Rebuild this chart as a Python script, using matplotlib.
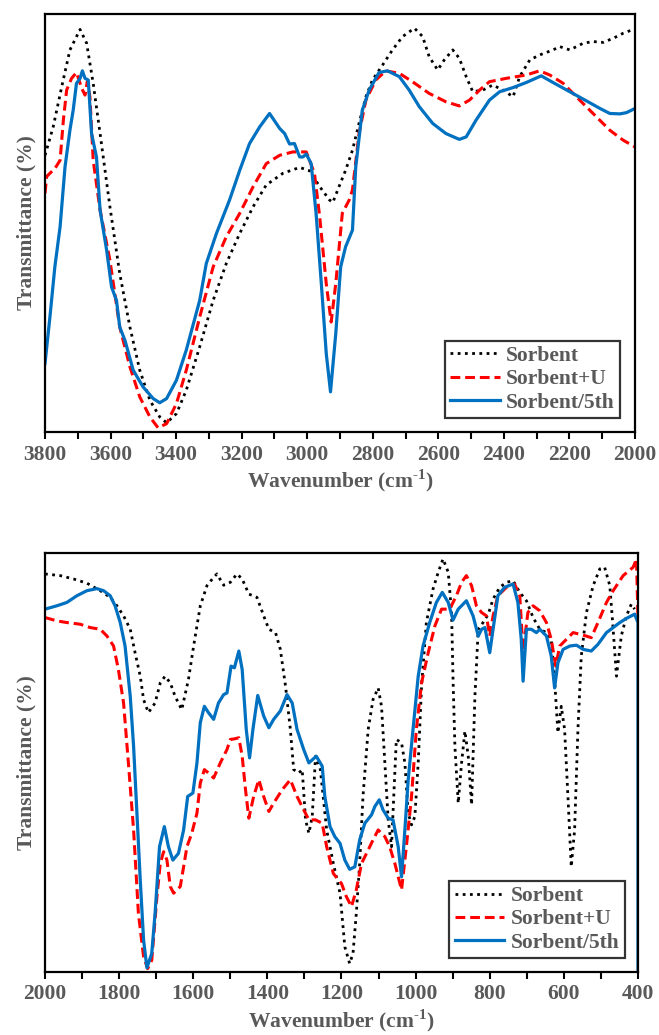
import matplotlib
matplotlib.use("Agg")
import matplotlib.pyplot as plt
from matplotlib.ticker import MultipleLocator

plt.rcParams['font.family'] = ['Liberation Serif', 'DejaVu Serif']
plt.rcParams['font.weight'] = 'bold'
plt.rcParams['mathtext.fontset'] = 'custom'
plt.rcParams['mathtext.rm'] = 'Liberation Serif:bold'
plt.rcParams['mathtext.bf'] = 'Liberation Serif:bold'

labels = ['Sorbent', 'Sorbent+U', 'Sorbent/5th']

# ---- top panel: 3800-2000 cm-1 ----
top_sorbent_w = [3800, 3775, 3749, 3724, 3693, 3673, 3653, 3632, 3602, 3572, 3541, 3511, 3480, 3450,
                 3429, 3399, 3369, 3328, 3287, 3247, 3206, 3165, 3125, 3074, 3023, 2993, 2962, 2932,
                 2922, 2903, 2883, 2862, 2842, 2821, 2801, 2770, 2740, 2709, 2673, 2648, 2628, 2602,
                 2582, 2556, 2536, 2515, 2495, 2464, 2434, 2403, 2372, 2352, 2321, 2291, 2250, 2230,
                 2199, 2158, 2128, 2097, 2066, 2036, 2005]
top_sorbent_t = [66.2, 73.0, 82.6, 91.4, 96.3, 93.0, 83.4, 71.4, 53.9, 37.9, 25.1, 14.8, 7.6, 3.6,
                 2.2, 4.4, 10.0, 20.4, 31.5, 40.3, 47.5, 53.9, 59.1, 61.9, 63.3, 62.5, 58.7, 55.5,
                 54.9, 58.7, 62.6, 67.4, 73.8, 80.2, 84.2, 87.8, 91.4, 94.6, 96.6, 94.6, 89.8, 86.6,
                 89.0, 91.4, 89.4, 85.0, 81.4, 81.8, 83.0, 81.8, 80.2, 85.0, 89.0, 90.2, 91.4, 92.2,
                 91.4, 93.0, 93.4, 93.2, 94.2, 95.4, 96.3]

top_u_w = [3800, 3795, 3785, 3770, 3754, 3744, 3734, 3719, 3704, 3688, 3678, 3671, 3663, 3653,
           3632, 3602, 3572, 3541, 3511, 3480, 3455, 3429, 3399, 3369, 3328, 3287, 3247, 3206,
           3165, 3125, 3084, 3044, 3003, 2978, 2962, 2942, 2927, 2913, 2893, 2872, 2862, 2842,
           2821, 2791, 2760, 2719, 2679, 2628, 2577, 2536, 2505, 2474, 2444, 2393, 2332, 2291,
           2260, 2219, 2179, 2128, 2077, 2036, 2000]
top_u_t = [57.1, 61.1, 61.9, 63.0, 65.0, 74.6, 81.8, 84.6, 86.0, 82.2, 80.6, 83.8, 80.2, 65.0,
           53.1, 41.1, 25.1, 15.6, 8.4, 3.6, 1.0, 2.0, 6.8, 14.8, 27.5, 39.5, 46.7, 52.3,
           58.7, 64.2, 66.2, 67.0, 67.0, 61.9, 51.5, 35.5, 26.3, 35.5, 52.3, 55.5, 57.9, 71.4,
           79.4, 84.2, 86.4, 85.8, 83.8, 81.0, 79.0, 78.0, 79.4, 81.8, 83.8, 84.6, 85.4, 86.4,
           85.4, 83.4, 80.2, 76.2, 72.2, 69.8, 68.2]

top_5th_w = [3800, 3785, 3770, 3754, 3739, 3724, 3714, 3704, 3693, 3686, 3678, 3668, 3658, 3643,
             3632, 3612, 3597, 3582, 3572, 3556, 3531, 3501, 3470, 3450, 3429, 3399, 3369, 3328,
             3308, 3277, 3237, 3206, 3176, 3145, 3115, 3084, 3069, 3054, 3039, 3023, 3013, 3003,
             2988, 2973, 2957, 2942, 2929, 2913, 2898, 2883, 2862, 2852, 2832, 2811, 2781, 2755,
             2719, 2689, 2658, 2617, 2577, 2536, 2515, 2485, 2444, 2413, 2372, 2332, 2286, 2250,
             2199, 2148, 2107, 2077, 2046, 2026, 2000]
top_5th_t = [16.4, 27.5, 39.5, 49.1, 63.4, 72.2, 77.0, 83.4, 84.6, 86.4, 84.6, 84.2, 71.4, 65.8,
             53.1, 43.5, 34.7, 31.5, 25.1, 21.9, 14.8, 10.8, 8.0, 7.0, 8.0, 12.4, 19.6, 31.5,
             40.3, 47.5, 55.5, 62.6, 69.0, 73.0, 76.2, 72.6, 71.4, 68.9, 69.0, 65.8, 65.8, 66.5,
             64.2, 52.3, 35.5, 18.8, 9.6, 23.5, 39.5, 44.3, 48.3, 63.4, 77.0, 81.8, 86.0, 86.4,
             85.0, 81.8, 77.8, 73.8, 71.4, 70.0, 70.6, 74.6, 79.4, 81.4, 82.4, 83.6, 85.2, 83.6,
             81.4, 79.2, 77.4, 76.2, 76.1, 76.4, 77.4]

# ---- bottom panel: 2000-400 cm-1 ----
bot_sorbent_w = [2000, 1959, 1923, 1887, 1851, 1824, 1806, 1788, 1770, 1757, 1743, 1734, 1721, 1703,
                 1689, 1676, 1662, 1649, 1631, 1613, 1599, 1581, 1563, 1545, 1536, 1518, 1500, 1482,
                 1468, 1450, 1428, 1410, 1396, 1378, 1365, 1351, 1338, 1329, 1315, 1306, 1297, 1288,
                 1279, 1270, 1257, 1240, 1222, 1204, 1191, 1178, 1169, 1160, 1151, 1142, 1128, 1115,
                 1101, 1092, 1083, 1074, 1065, 1059, 1052, 1038, 1029, 1020, 1011, 1002, 993, 984,
                 971, 953, 939, 926, 912, 903, 899, 894, 885, 876, 867, 858, 849, 840, 831, 818,
                 804, 791, 773, 755, 737, 719, 701, 683, 665, 647, 634, 625, 616, 607, 598, 589,
                 580, 571, 562, 553, 539, 521, 503, 490, 476, 467, 458, 445, 431, 418, 409]
bot_sorbent_t = [95.0, 94.6, 93.8, 92.8, 91.0, 89.4, 87.4, 85.0, 81.8, 76.2, 70.6, 65.0, 61.9, 64.2,
                 69.0, 70.6, 69.0, 65.8, 62.6, 69.8, 77.8, 87.4, 92.2, 94.2, 95.0, 92.3, 93.0, 95.0,
                 93.8, 90.2, 89.4, 85.0, 81.8, 81.0, 77.0, 68.2, 57.9, 48.3, 47.5, 48.3, 36.3, 33.1,
                 37.1, 51.5, 48.3, 33.9, 25.9, 18.8, 6.0, 2.0, 4.4, 14.0, 25.9, 41.9, 57.9, 65.0,
                 67.8, 63.4, 49.9, 36.3, 29.9, 41.9, 55.5, 54.7, 49.9, 37.9, 35.1, 37.1, 49.9, 68.2,
                 83.4, 91.4, 95.4, 98.6, 95.4, 85.8, 69.8, 53.9, 40.3, 49.9, 57.5, 51.5, 39.9, 65.8, 81.8, 83.4,
                 85.4, 89.0, 91.8, 93.0, 93.4, 90.6, 88.6, 84.6, 81.8, 81.0, 79.4, 69.8, 57.1, 63.4, 57.9, 41.9,
                 25.1, 33.9, 57.9, 75.4, 85.8, 92.2, 96.2, 96.6, 92.2, 81.8, 70.6, 80.2, 85.0, 87.8, 86.6]

bot_u_w = [2000, 1968, 1941, 1905, 1878, 1851, 1833, 1815, 1802, 1788, 1775, 1761, 1748, 1734,
           1723, 1712, 1698, 1689, 1680, 1671, 1662, 1653, 1635, 1626, 1617, 1604, 1590, 1581,
           1570, 1559, 1545, 1527, 1509, 1500, 1491, 1477, 1468, 1459, 1450, 1437, 1423, 1410,
           1396, 1383, 1360, 1338, 1320, 1302, 1288, 1270, 1252, 1240, 1222, 1200, 1187, 1173,
           1160, 1146, 1128, 1115, 1101, 1083, 1070, 1056, 1038, 1025, 1011, 998, 984, 966,
           948, 930, 908, 890, 876, 863, 849, 836, 822, 809, 800, 791, 778, 755, 733, 719,
           710, 697, 683, 665, 647, 634, 622, 611, 593, 575, 548, 526, 508, 485, 467, 440,
           413, 404, 400]
bot_u_t = [84.6, 83.8, 83.4, 83.0, 82.2, 81.8, 80.2, 77.8, 72.2, 64.2, 49.9, 33.9, 14.0, 3.6,
           0.8, 2.8, 18.0, 25.9, 28.7, 26.7, 20.4, 18.8, 20.4, 25.1, 29.9, 33.1, 37.9, 45.1,
           48.3, 47.5, 46.3, 49.9, 53.1, 55.5, 55.6, 55.9, 51.5, 43.5, 36.7, 41.9, 45.9, 41.9,
           38.3, 40.3, 43.5, 45.9, 41.9, 38.7, 36.3, 36.3, 35.5, 29.9, 23.5, 21.1, 18.0, 15.6,
           19.6, 25.9, 29.1, 31.5, 33.9, 32.3, 29.9, 25.9, 19.6, 29.9, 41.9, 57.9, 69.0, 76.2,
           82.6, 86.6, 86.6, 89.8, 93.0, 94.6, 92.2, 87.4, 85.8, 85.0, 80.2, 85.0, 89.8, 91.8, 92.6, 89.8,
           76.6, 85.8, 87.4, 86.2, 83.4, 79.4, 73.0, 77.8, 79.4, 81.0, 80.4, 79.8, 83.4, 88.2, 91.0, 94.6,
           96.6, 98.6, 84.2]

bot_5th_w = [2000, 1968, 1941, 1914, 1887, 1860, 1842, 1824, 1811, 1797, 1784, 1770, 1761, 1752,
             1743, 1734, 1725, 1712, 1703, 1691, 1678, 1667, 1655, 1640, 1626, 1615, 1601, 1590,
             1581, 1570, 1559, 1545, 1532, 1518, 1509, 1498, 1489, 1477, 1468, 1457, 1448, 1439,
             1426, 1410, 1396, 1383, 1365, 1347, 1333, 1320, 1302, 1288, 1268, 1252, 1245, 1231,
             1218, 1204, 1191, 1178, 1164, 1151, 1137, 1119, 1110, 1098, 1088, 1074, 1061, 1047,
             1038, 1029, 1020, 1007, 993, 980, 962, 944, 928, 912, 899, 885, 863, 845, 831, 822,
             813, 800, 791, 778, 760, 737, 724, 715, 710, 701, 688, 674, 665, 647, 634, 625,
             616, 602, 584, 566, 548, 526, 508, 485, 467, 449, 431, 409, 400, 400]
bot_5th_t = [86.6, 87.4, 88.2, 89.8, 91.0, 91.5, 91.0, 89.8, 87.4, 83.4, 77.8, 65.8, 53.9, 37.9,
             21.9, 7.6, 1.0, 4.4, 14.0, 29.9, 34.7, 29.9, 26.7, 28.3, 33.9, 41.9, 42.7, 49.9,
             59.5, 63.4, 61.9, 60.3, 64.2, 66.2, 66.6, 73.0, 72.6, 76.6, 72.2, 57.9, 51.1, 57.9,
             66.0, 61.1, 58.3, 60.3, 62.3, 66.2, 64.2, 57.9, 53.1, 49.9, 51.5, 49.1, 41.9, 34.7,
             32.3, 30.7, 26.7, 24.5, 25.1, 31.5, 35.5, 37.5, 39.5, 41.1, 38.7, 36.7, 36.3, 29.9,
             22.7, 33.9, 45.9, 57.9, 70.6, 77.8, 83.4, 88.2, 90.6, 88.2, 84.0, 86.6, 88.6, 85.0, 80.2, 81.8,
             82.2, 76.2, 81.8, 89.8, 91.8, 92.6, 88.2, 79.4, 69.4, 81.8, 81.8, 81.0, 81.8, 80.2, 75.4, 67.8,
             73.8, 77.0, 77.8, 78.0, 77.0, 76.6, 78.2, 81.0, 82.2, 83.4, 84.4, 85.4, 83.4, 0.0]

text_color = '#595959'
fs = 15.5

fig = plt.figure(figsize=(6.59, 10.35), dpi=100)
ax1 = fig.add_axes([0.0683, 0.5826, 0.8953, 0.4039])
ax2 = fig.add_axes([0.0683, 0.0609, 0.8998, 0.4048])

panels = [
    (ax1, (3800, 2000), [(top_sorbent_w, top_sorbent_t), (top_u_w, top_u_t), (top_5th_w, top_5th_t)],
     (0.975, 0.0335)),
    (ax2, (2000, 400), [(bot_sorbent_w, bot_sorbent_t), (bot_u_w, bot_u_t), (bot_5th_w, bot_5th_t)],
     (0.978, 0.033)),
]

for ax, xlim, series, anchor in panels:
    (sw, st), (uw, ut), (fw, ft) = series
    ax.plot(sw, st, color='black', linestyle=(0, (1, 1.6)), linewidth=2.0, label=labels[0])
    ax.plot(uw, ut, color='#FF0000', linestyle=(0, (3.2, 1.6)), linewidth=2.2, label=labels[1])
    ax.plot(fw, ft, color='#0070C0', linestyle='-', linewidth=2.3, label=labels[2])
    ax.set_xlim(*xlim)
    ax.set_ylim(0, 100)
    ax.xaxis.set_major_locator(MultipleLocator(200))
    ax.xaxis.set_minor_locator(MultipleLocator(100))
    ax.tick_params(axis='x', which='both', direction='out', length=5, width=1.5,
                   labelsize=fs, labelcolor=text_color, pad=4)
    ax.set_yticks([])
    for sp in ax.spines.values():
        sp.set_linewidth(1.6)
        sp.set_color('black')
    for t in ax.get_xticklabels():
        t.set_fontweight('bold')
    ax.set_xlabel(r'Wavenumber (cm$^{\text{-1}}$)', fontsize=fs, fontweight='bold',
                  color=text_color, labelpad=2)
    ax.set_ylabel('Transmittance (%)', fontsize=fs, fontweight='bold', color=text_color,
                  labelpad=6)
    leg = ax.legend(loc='lower right', bbox_to_anchor=anchor, fontsize=fs, frameon=True,
                    fancybox=False, edgecolor='black', borderpad=0.25, labelspacing=0.15,
                    handlelength=2.3, handletextpad=0.3, borderaxespad=0)
    leg.get_frame().set_linewidth(1.6)
    for t in leg.get_texts():
        t.set_color(text_color)
        t.set_fontweight('bold')

fig.savefig('out.png', dpi=100)
